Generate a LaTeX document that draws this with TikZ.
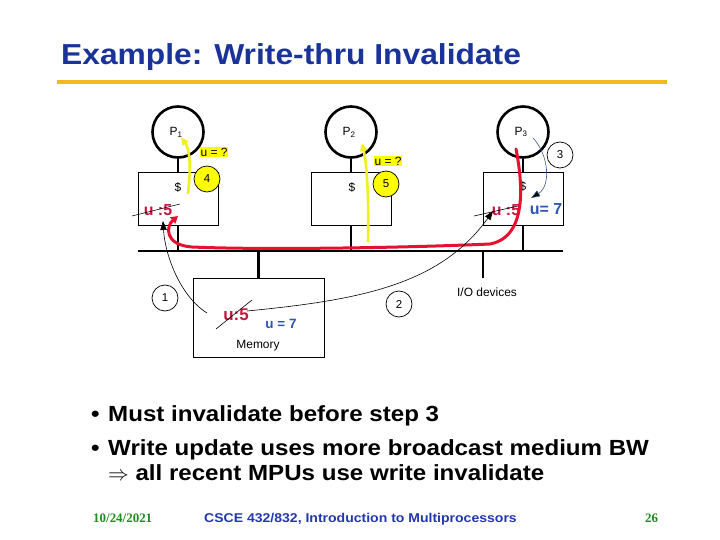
\documentclass[tikz,border=0pt]{standalone}
\usepackage{fontspec}
\setmainfont{Liberation Sans}
\newfontfamily\slidefont{Liberation Sans}[FakeStretch=1.1]
\newfontfamily\seriffont{Liberation Serif}
\usetikzlibrary{arrows.meta}
\definecolor{titleblue}{HTML}{1A3399}
\definecolor{gold}{HTML}{F2B823}
\definecolor{crim}{HTML}{C01840}
\definecolor{redc}{HTML}{E8102E}
\definecolor{ublue}{HTML}{2A55B0}
\definecolor{ylw}{HTML}{FFFF00}
\definecolor{ylwarrow}{HTML}{F0F020}
\definecolor{thinblue}{HTML}{3A5A8A}
\definecolor{footgreen}{HTML}{1E8C1E}
\definecolor{footblue}{HTML}{2236B0}
\tikzset{
  proc/.style={circle, draw, line width=2.6bp, minimum size=51bp, inner sep=0pt},
  cachebox/.style={rectangle, draw, line width=0.8bp, minimum width=80bp, minimum height=53bp, inner sep=0pt},
  stem/.style={line width=2.6bp},
  small/.style={font=\fontsize{12}{13}\selectfont, inner sep=0pt},
  stepcirc/.style={circle, draw, line width=0.7bp, minimum size=26bp, inner sep=0pt, font=\fontsize{11.5}{12}\selectfont},
  ystepcirc/.style={stepcirc, fill=ylw},
  uq/.style={fill=ylw, inner sep=1bp, font=\fontsize{12}{13}\selectfont},
  redval/.style={text=crim, font=\fontsize{16}{18}\selectfont\bfseries, inner sep=0pt},
  blueval/.style={text=ublue, font=\fontsize{16}{18}\selectfont\bfseries, inner sep=0pt},
  strike/.style={line width=0.6bp},
  yarrow/.style={draw=ylwarrow, line width=2.6bp, -{Triangle[length=8bp,width=7bp]}},
  thinarrow/.style={line width=0.6bp, -{Triangle[length=9bp,width=6.5bp]}},
  bullettext/.style={anchor=base west, font=\slidefont\fontsize{22}{24}\selectfont\bfseries, inner sep=0pt},
}
\begin{document}
\begin{tikzpicture}[x=1bp,y=-1bp]
\useasboundingbox (0,0) rectangle (720,540);

% title
\node[anchor=base west, text=titleblue, font=\slidefont\fontsize{29}{31}\selectfont\bfseries, inner sep=0pt] (title) at (61,65) {Example: Write-thru Invalidate};
\coordinate (gl) at (57,82);
\coordinate (gr) at (667,82);
\draw[gold, line width=3.5bp] (gl) -- (gr);

% processors
\node[proc] (p1) at (178,132) {};
\node[proc] (p2) at (351,132) {};
\node[proc] (p3) at (523,132) {};
\node[small] (p1l) at (176,132) {P\textsubscript{1}};
\node[small] (p2l) at (349,132) {P\textsubscript{2}};
\node[small] (p3l) at (521,132) {P\textsubscript{3}};

% caches
\node[cachebox] (c1) at (178.5,198.5) {};
\node[cachebox] (c2) at (351,198.5) {};
\node[cachebox] (c3) at (523,198.5) {};
\node[small] (d1) at (178,187) {\$};
\node[small] (d2) at (352,187) {\$};
\node[small] (d3) at (523,186) {\$};

% bus
\coordinate (busL) at (138,251);
\coordinate (busR) at (563,251);
\draw[stem] (busL) -- (busR);

\draw[stem] (p1.south) -- (p1.south |- c1.north);
\draw[stem] (p2.south) -- (p2.south |- c2.north);
\draw[stem] (p3.south) -- (p3.south |- c3.north);
\draw[stem] (p1.south |- c1.south) -- (p1.south |- busL);
\draw[stem] (p2.south |- c2.south) -- (p2.south |- busL);
\draw[stem] (p3.south |- c3.south) -- (p3.south |- busL);

% memory and I/O
\node[cachebox, minimum width=131bp, minimum height=79bp] (mem) at (258.5,317.5) {};
\draw[stem] (mem.north |- busL) -- (mem.north);
\coordinate (io) at (483,278);
\draw[stem] (io |- busL) -- (io);
\node[small] (iol) at (487,292) {I/O devices};
\node[small] (meml) at (258,346) {Memory};
\node[redval, font=\fontsize{17}{18}\selectfont\bfseries] (mu) at (236,315) {u:5};
\node[blueval, font=\fontsize{13.5}{15}\selectfont\bfseries] (m7) at (281,324) {u = 7};
\coordinate (ms1) at (216,329);
\coordinate (ms2) at (252,300);
\draw[strike] (ms1) -- (ms2);

% cache values
\node[redval] (c1u) at (158,210) {u :5};
\coordinate (s1a) at (132,216);
\coordinate (s1b) at (180,204);
\draw[strike] (s1a) -- (s1b);
\node[redval] (c3u) at (506,210) {u :5};
\coordinate (s3a) at (474,216);
\coordinate (s3b) at (518,206);
\draw[strike] (s3a) -- (s3b);
\node[blueval] (c3v) at (546,209) {u= 7};

% u = ?
\node[uq] (q1) at (214,152) {u = ?};
\node[uq] (q2) at (388,161) {u = ?};

% step circles
\node[stepcirc] (n1) at (165,298) {1};
\node[stepcirc] (n2) at (399,304) {2};
\node[stepcirc] (n3) at (560,155) {3};
\node[ystepcirc] (n4) at (207,179) {4};
\node[ystepcirc] (n5) at (386,184) {5};

% red invalidate path
\coordinate (r0) at (516,149);
\coordinate (r1) at (490,244);
\coordinate (r2) at (192,247);
\coordinate (r3) at (178,216);
\draw[redc, line width=3bp, line cap=round, -{Triangle[length=7bp,width=8bp]}]
  (r0) .. controls (523,185) and (527,237) .. (r1)
  .. controls (400,248) and (260,250) .. (r2)
  .. controls (164,245) and (166,226) .. (r3);

% yellow reads
\coordinate (y1a) at (188,194);
\coordinate (y1b) at (181,137);
\draw[yarrow] (y1a) .. controls (191,168) and (190,150) .. (y1b);
\coordinate (y2a) at (368,242);
\coordinate (y2b) at (362,143);
\draw[yarrow] (y2a) .. controls (369,200) and (367,165) .. (y2b);

% thin arrows
\coordinate (a1s) at (207,313);
\coordinate (a1e) at (163,221);
\draw[thinarrow] (a1s) .. controls (180,296) and (165,255) .. (a1e);
\coordinate (a2s) at (247,311);
\coordinate (a2e) at (493,211);
\draw[thinarrow] (a2s) .. controls (360,300) and (440,285) .. (a2e);
\coordinate (a3s) at (533,138);
\coordinate (a3e) at (531,198);
\draw[thinarrow, draw=thinblue, -{Triangle[length=9bp,width=6.5bp,fill=black]}] (a3s) .. controls (549,155) and (551,186) .. (a3e);

% bullets
\node[bullettext] (b1dot) at (91,421) {•};
\node[bullettext] (b1) at (108,421) {Must invalidate before step 3};
\node[bullettext] (b2dot) at (91,455) {•};
\node[bullettext] (b2) at (108,455) {Write update uses more broadcast medium BW};
\node[bullettext] (b3) at (108,480) {$\Rightarrow$ all recent MPUs use write invalidate};

% footer
\node[anchor=base west, text=footgreen, font=\seriffont\fontsize{13}{14}\selectfont\bfseries, inner sep=0pt] (date) at (93,522) {10/24/2021};
\node[anchor=base west, text=footblue, font=\slidefont\fontsize{12.8}{14}\selectfont\bfseries, inner sep=0pt] (course) at (204,522) {CSCE 432/832, Introduction to Multiprocessors};
\node[anchor=base west, text=footgreen, font=\seriffont\fontsize{13}{14}\selectfont\bfseries, inner sep=0pt] (page) at (645,522) {26};
\end{tikzpicture}
\end{document}
